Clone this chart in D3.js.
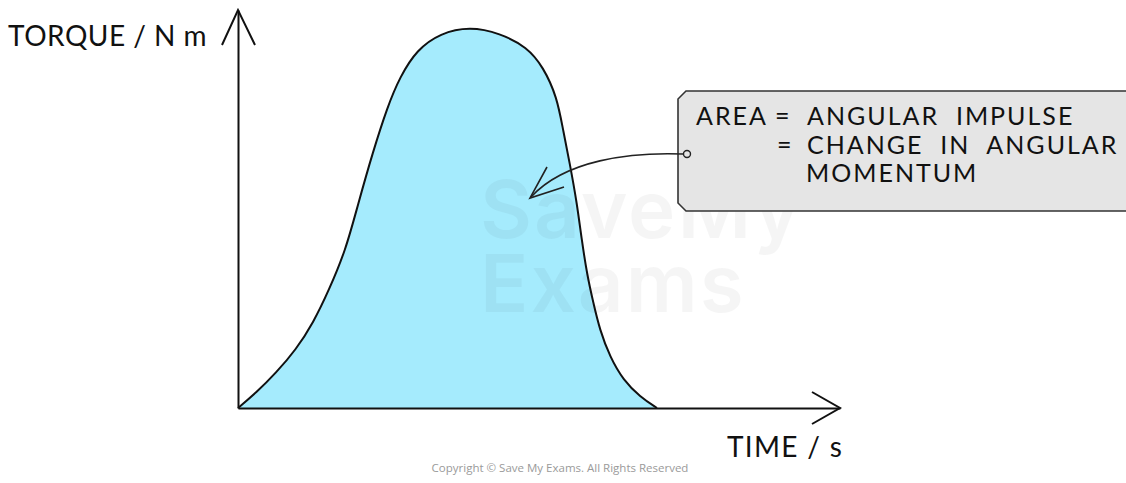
<!DOCTYPE html>
<html>
<head>
<meta charset="utf-8">
<script src="https://cdn.jsdelivr.net/npm/d3@7"></script>
<style>
  html, body { margin: 0; padding: 0; background: #fff; }
  svg { display: block; }
  text { font-family: Lato, "Noto Sans", sans-serif; }
</style>
</head>
<body>
<script>
// torque against time pulse
const timeVals = [0, 0.30, 0.63, 0.96, 1.25, 1.51, 1.79, 1.99, 2.24, 2.48, 2.69, 2.97, 3.36, 3.85,
                  4.35, 4.80, 5.07, 5.30, 5.40, 5.51, 5.63, 5.71, 5.80, 5.90, 6.01, 6.18, 6.40, 6.68, 6.96];
const torqueVals = [0, 0.38, 0.88, 1.46, 2.14, 2.96, 3.97, 5.10, 6.43, 7.56, 8.32, 9.00, 9.42, 9.58,
                    9.42, 9.07, 8.57, 7.81, 6.98, 6.16, 5.15, 4.22, 3.34, 2.66, 1.96, 1.28, 0.70, 0.28, 0];

const yLabel = 'TORQUE / N m';
const xLabel = 'TIME / s';
const noteLines = [
  ['AREA', '=', 'ANGULAR  IMPULSE'],
  ['', '=', 'CHANGE  IN  ANGULAR'],
  ['', '', 'MOMENTUM']
];
const watermark = ['SaveMy', 'Exams'];

const W = 1126, H = 483;

const svg = d3.select('body').append('svg')
  .attr('width', W)
  .attr('height', H);

const x = d3.scaleLinear().domain([0, 10]).range([238, 840]);
const y = d3.scaleLinear().domain([0, 10]).range([408, 10]);

const data = timeVals.map((t, i) => [t, torqueVals[i]]);

const area = d3.area()
  .x(d => x(d[0]))
  .y0(y(0))
  .y1(d => y(d[1]))
  .curve(d3.curveBasis);

const line = d3.line()
  .x(d => x(d[0]))
  .y(d => y(d[1]))
  .curve(d3.curveBasis);

svg.append('path')
  .datum(data)
  .attr('d', area)
  .attr('fill', '#a5ebfd');

// watermark (faint, on top of the fill)
const wm = svg.append('text')
  .attr('x', 480).attr('y', 238)
  .style('fill', '#000')
  .style('fill-opacity', 0.04)
  .style('font-family', 'Inter, sans-serif')
  .style('font-weight', 600)
  .style('font-size', '80px')
  .style('letter-spacing', '2px');
wm.selectAll('tspan')
  .data(watermark)
  .join('tspan')
  .attr('x', 480)
  .attr('dy', (d, i) => i === 0 ? 0 : 74)
  .text(d => d);

svg.append('path')
  .datum(data)
  .attr('d', line)
  .attr('fill', 'none')
  .attr('stroke', '#111')
  .attr('stroke-width', 2);

// axes, no ticks, just the lines
svg.append('g')
  .attr('transform', `translate(0,${y(0)})`)
  .call(d3.axisBottom(x).tickValues([]).tickSizeOuter(0));
svg.append('g')
  .attr('transform', `translate(${x(0)},0)`)
  .call(d3.axisLeft(y).tickValues([]).tickSizeOuter(0));
svg.selectAll('.domain').attr('stroke', '#111').attr('stroke-width', 2);

// open arrow heads
const arrowStyle = sel => sel.attr('fill', 'none').attr('stroke', '#111')
  .attr('stroke-width', 2).attr('stroke-linejoin', 'miter');
svg.append('path')
  .attr('d', `M${x(0) - 16},45 L${x(0)},${y(10)} L${x(0) + 17},45`)
  .call(arrowStyle);
svg.append('path')
  .attr('d', `M${x(10) - 28},${y(0) - 16} L${x(10)},${y(0)} L${x(10) - 28},${y(0) + 16}`)
  .call(arrowStyle);

// axis labels
svg.append('text')
  .attr('x', 8).attr('y', 46)
  .style('font-size', '28px')
  .style('letter-spacing', '0.5px')
  .style('fill', '#111')
  .text(yLabel);
svg.append('text')
  .attr('x', 727).attr('y', 457)
  .style('font-size', '28px')
  .style('letter-spacing', '1.3px')
  .style('fill', '#111')
  .text(xLabel);

// note box
const box = svg.append('g');
box.append('path')
  .attr('d', 'M686,91 L1140,91 L1140,211 L686,211 L678,203 L678,99 Z')
  .attr('fill', '#e5e5e5')
  .attr('stroke', '#333')
  .attr('stroke-width', 1.6);

const colX = [[696, 775, 807], [0, 777, 807], [0, 0, 806]];
noteLines.forEach((row, i) => {
  row.forEach((s, j) => {
    if (!s) return;
    box.append('text')
      .attr('x', colX[i][j])
      .attr('y', 125 + i * 28.5)
      .attr('xml:space', 'preserve')
      .style('white-space', 'pre')
      .style('font-size', '25px')
      .style('letter-spacing', j === 1 ? '0px' : '2px')
      .style('fill', '#111')
      .text(s);
  });
});

// connector arrow from box to area
svg.append('path')
  .attr('d', 'M683,154 C630,152 565,160 531,197')
  .attr('fill', 'none').attr('stroke', '#222').attr('stroke-width', 1.6);
svg.append('path')
  .attr('d', 'M547,167 L530,198 L564,187')
  .attr('fill', 'none').attr('stroke', '#222').attr('stroke-width', 1.6);
svg.append('circle')
  .attr('cx', 687).attr('cy', 154).attr('r', 3.5)
  .attr('fill', '#e5e5e5').attr('stroke', '#222').attr('stroke-width', 1.4);

// copyright
svg.append('text')
  .attr('x', 560).attr('y', 472)
  .attr('text-anchor', 'middle')
  .style('font-family', '"Open Sans", sans-serif')
  .style('font-size', '11.5px')
  .style('fill', '#9a9a9a')
  .text('Copyright © Save My Exams. All Rights Reserved');
</script>
</body>
</html>
